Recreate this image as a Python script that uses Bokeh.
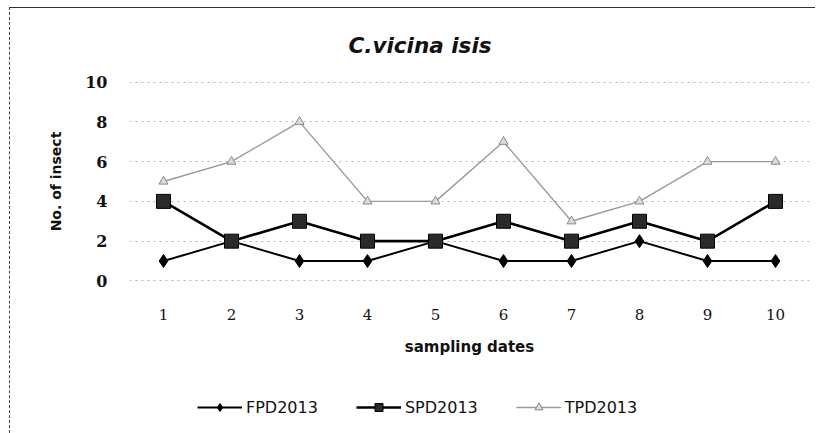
from bokeh.plotting import figure
from bokeh.layouts import column
from bokeh.models import Range1d, FixedTicker, Legend, LegendItem
from bokeh.embed import file_html
from bokeh.resources import INLINE

dates = [1, 2, 3, 4, 5, 6, 7, 8, 9, 10]
fpd2013 = [1, 2, 1, 1, 2, 1, 1, 2, 1, 1]
spd2013 = [4, 2, 3, 2, 2, 3, 2, 3, 2, 4]
tpd2013 = [5, 6, 8, 4, 4, 7, 3, 4, 6, 6]
y_ticks = [0, 2, 4, 6, 8, 10]
title_text = "C.vicina isis"
series_names = ["FPD2013", "SPD2013", "TPD2013"]

p = figure(width=805, height=380, output_backend="svg", toolbar_location=None,
           x_range=Range1d(0.5, 10.5), y_range=Range1d(-0.03, 10.03),
           min_border_left=119, min_border_right=6, min_border_top=73, min_border_bottom=107,
           title=title_text)
p.outline_line_color = None
p.background_fill_color = "white"

p.title.align = "left"
p.title.offset = 219
p.title.vertical_align = "top"
p.title.text_font = "DejaVu Sans"
p.title.text_font_style = "bold italic"
p.title.text_font_size = "21.5px"
p.title.text_color = "#111"
p.title.standoff = 44

p.xgrid.grid_line_color = None
p.ygrid.grid_line_color = "#b5b5b5"
p.ygrid.grid_line_dash = "2 4"
p.ygrid.grid_line_width = 1

for ax in (p.xaxis, p.yaxis):
    ax.axis_line_color = None
    ax.major_tick_line_color = None
    ax.minor_tick_line_color = None
    ax.major_label_text_color = "#111"
    ax.axis_label_text_font = "DejaVu Sans"
    ax.axis_label_text_font_style = "bold"
    ax.axis_label_text_color = "#111"

p.xaxis.major_label_text_font = "DejaVu Serif"
p.xaxis.major_label_text_font_size = "15px"
p.yaxis.major_label_text_font = "DejaVu Serif"
p.yaxis.major_label_text_font_style = "bold"
p.yaxis.major_label_text_font_size = "16px"

p.xaxis.ticker = FixedTicker(ticks=dates)
p.yaxis.ticker = FixedTicker(ticks=y_ticks)
p.xaxis.major_label_standoff = 21
p.yaxis.major_label_standoff = 16
p.xaxis.axis_label = "sampling dates"
p.xaxis.axis_label_text_font_size = "15px"
p.xaxis.axis_label_standoff = 15
p.yaxis.axis_label = "No. of insect"
p.yaxis.axis_label_text_font_size = "14px"
p.yaxis.axis_label_standoff = 18

styles = [
    dict(line_color="black", line_width=2, marker="diamond", size=13,
         fill_color="black", mline="black"),
    dict(line_color="black", line_width=2.6, marker="square", size=14,
         fill_color="#2a2a2a", mline="black"),
    dict(line_color="#999999", line_width=1.4, marker="triangle", size=9,
         fill_color="#dddddd", mline="#888888"),
]
series = [fpd2013, spd2013, tpd2013]

for vals, st in zip(series, styles):
    p.line(dates, vals, line_color=st["line_color"], line_width=st["line_width"])
    p.scatter(dates, vals, marker=st["marker"], size=st["size"],
              fill_color=st["fill_color"], line_color=st["mline"])

# legend strip below the chart (its renderers sit outside its visible range)
pl = figure(width=805, height=45, output_backend="svg", toolbar_location=None,
            x_axis_type=None, y_axis_type=None,
            x_range=Range1d(-20, -19), y_range=Range1d(-20, -19), min_border=0)
pl.outline_line_color = None
pl.grid.visible = False
items = []
for name, vals, st in zip(series_names, series, styles):
    rl = pl.line(dates, vals, line_color=st["line_color"], line_width=st["line_width"])
    rm = pl.scatter(dates, vals, marker=st["marker"], size=st["size"] * 0.75,
                    fill_color=st["fill_color"], line_color=st["mline"])
    items.append(LegendItem(label=name, renderers=[rl, rm]))

legend = Legend(items=items, orientation="horizontal", location=(68, 16),
                border_line_color=None, background_fill_alpha=0,
                label_text_font="DejaVu Sans", label_text_font_size="16px",
                label_text_color="#111", glyph_width=45, spacing=38,
                label_standoff=4, padding=5, margin=0)
pl.add_layout(legend)

layout = column(p, pl, spacing=0,
                styles={"margin-left": "9px", "margin-top": "7px",
                        "border-left": "1px dashed #444", "border-top": "1px solid #333"})

open("out.html", "w").write(file_html(layout, INLINE))
